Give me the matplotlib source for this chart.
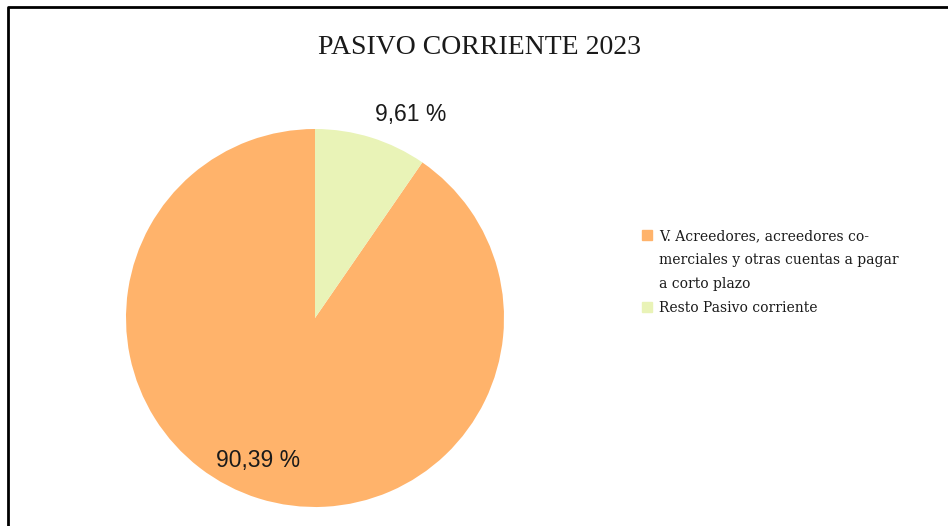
import matplotlib.pyplot as plt
from matplotlib.patches import Rectangle

# datos del grafico
categorias = ['V. Acreedores, acreedores co-\nmerciales y otras cuentas a pagar\na corto plazo',
              'Resto Pasivo corriente']
valores = [90.39, 9.61]
etiquetas = ['90,39 %', '9,61 %']
colores = ['#FFB36B', '#E9F3B7']

W, H = 948, 526
fig = plt.figure(figsize=(W / 100, H / 100), dpi=100)
ax = fig.add_axes([0, 0, 1, 1])
ax.set_xlim(0, W)
ax.set_ylim(0, H)
ax.set_aspect('equal')
ax.axis('off')

# marco (solo izquierda y arriba visibles)
ax.plot([8, 8, W], [0, H - 7, H - 7], color='black', lw=2, solid_capstyle='butt')

wedges, _ = ax.pie(valores, colors=colores, startangle=90, counterclock=True,
                   center=(315, H - 318), radius=189, frame=True)
ax.set_xlim(0, W)
ax.set_ylim(0, H)
ax.axis('off')

ax.text(258, H - 461, etiquetas[0], ha='center', va='center', fontsize=16.5,
        family='Liberation Sans', color='#1a1a1a')
ax.text(411, H - 114, etiquetas[1], ha='center', va='center', fontsize=16.5,
        family='Liberation Sans', color='#1a1a1a')

ax.text(480, H - 48, 'PASIVO CORRIENTE 2023', ha='center', va='center',
        fontsize=20, family='Liberation Serif', color='#1a1a1a')

# leyenda
ys = [235, 307]
for c, lab, y in zip(colores, categorias, ys):
    ax.add_patch(Rectangle((642, H - y - 5), 10, 10, color=c))
    ax.text(659, H - y + 6, lab, ha='left', va='top', fontsize=10,
            family='DejaVu Serif', color='#1a1a1a',
            linespacing=1.9)

fig.savefig('out.png', dpi=100)
